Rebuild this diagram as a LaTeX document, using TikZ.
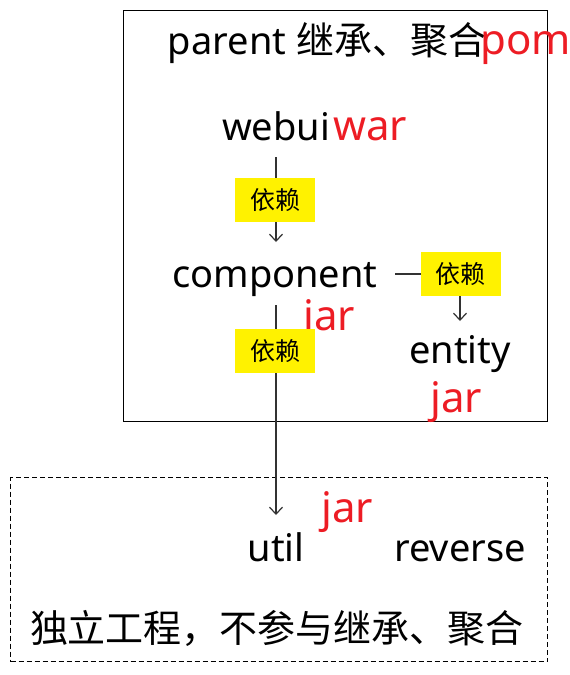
\documentclass[tikz,border=0pt]{standalone}
\usepackage{fontspec}
\setmainfont{Noto Sans}
\newfontfamily\cjk{Noto Sans CJK SC}
\usetikzlibrary{arrows.meta,calc}
\definecolor{myred}{RGB}{237,28,36}
\definecolor{lin}{RGB}{50,50,50}
\tikzset{
  big/.style={font=\fontsize{38}{45}\selectfont, inner sep=0pt, anchor=base},
  redtxt/.style={font=\fontsize{42}{50}\selectfont, text=myred, inner sep=0pt, anchor=base west},
  dep/.style={fill=yellow, minimum width=80pt, minimum height=44pt, inner sep=0pt, font=\cjk\fontsize{25}{30}\selectfont},
  arr/.style={draw=lin, line width=1.2pt, -{Straight Barb[length=7pt,width=13pt]}},
  plain/.style={draw=lin, line width=1.2pt}
}
\begin{document}
\begin{tikzpicture}[x=1pt,y=-1pt]
\useasboundingbox (0,0) rectangle (570,675);
% boxes
\node[draw=black, line width=1.4pt, minimum width=424pt, minimum height=411pt, inner sep=0pt, anchor=north west] (outer) at (123,10) {};
\node[draw=black, line width=1.3pt, dash pattern=on 5pt off 3pt, minimum width=537pt, minimum height=184pt, inner sep=0pt, anchor=north west] (indep) at (10,477) {};
% texts
\node[big] (parent) at (327,54) {parent {\cjk 继承、聚合}};
\node[redtxt] (pom) at (480,54) {pom};
\node[big] (webui) at (276,140) {webui};
\node[redtxt] (war) at (333,140) {war};
\node[big] (comp) at (275,287) {component};
\node[redtxt] (jar1) at (303,330) {jar};
\node[big] (entity) at (460,363) {entity};
\node[redtxt] (jar2) at (430,412) {jar};
\node[big] (util) at (276,561) {util};
\node[redtxt] (jar3) at (321,522) {jar};
\node[big] (reverse) at (460,561) {reverse};
\node[big, font=\cjk\fontsize{38}{45}\selectfont] (indeptxt) at (277,642) {独立工程，不参与继承、聚合};
% connectors
\draw[arr] ($(webui.base)+(0,17)$) -- ($(comp.base)+(1,-45)$);
\draw[arr] ($(comp.base)+(120,-13)$) -| ($(entity.base)+(0,-42)$);
\draw[arr] ($(comp.base)+(1,18)$) -- ($(util.base)+(0,-46)$);
% labels
\node[dep] (d1) at (275,200) {依赖};
\node[dep] (d2) at (460.5,274) {依赖};
\node[dep] (d3) at (275,351) {依赖};
\end{tikzpicture}
\end{document}
